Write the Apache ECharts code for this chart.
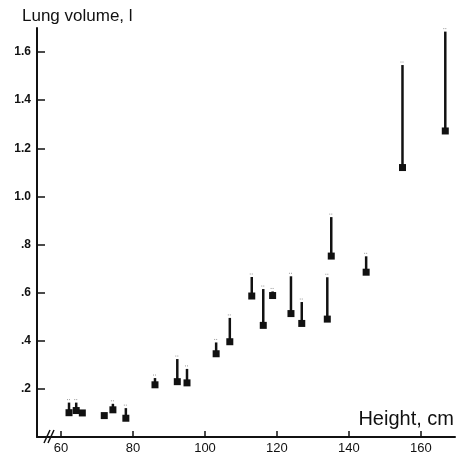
<!DOCTYPE html>
<html>
<head>
    <meta charset="utf-8">
    <title>Lung volume vs height</title>
    <script src="https://cdn.jsdelivr.net/npm/echarts@6/dist/echarts.min.js"></script>
    <style>
        html, body {
            margin: 0;
            width: 100%;
            height: 100%;
            background: #fff;
        }

        #main {
            width: 464px;
            height: 455px;
        }
    </style>
</head>
<body>
<div id="main"></div>
<script type="text/javascript">
    var myChart = echarts.init(document.getElementById('main'));

    // height (cm), lower value (square), upper value (top of bar) -- null = no bar
    const heights = [62.2, 64.2, 65.9, 72.0, 74.4, 78.0, 86.1, 92.3, 95.0, 103.1, 106.9,
        113.0, 116.2, 118.8, 123.9, 126.9, 134.0, 135.1, 144.8, 154.9, 166.8];
    const lower = [0.101, 0.110, 0.100, 0.089, 0.113, 0.078, 0.217, 0.230, 0.225, 0.346, 0.396,
        0.586, 0.464, 0.588, 0.513, 0.472, 0.490, 0.752, 0.685, 1.120, 1.272];
    const upper = [0.143, 0.143, null, null, 0.138, 0.120, 0.245, 0.324, 0.283, 0.393, 0.495,
        0.665, 0.615, 0.605, 0.668, 0.561, 0.664, 0.914, 0.751, 1.546, 1.685];

    const xTicks = [60, 80, 100, 120, 140, 160];
    const yTicks = [0.2, 0.4, 0.6, 0.8, 1.0, 1.2, 1.4, 1.6];

    const ink = '#111';
    const font = '"Liberation Sans", Arial, sans-serif';

    const rangeData = [];
    heights.forEach((h, i) => {
        if (upper[i] != null) rangeData.push([h, lower[i], upper[i]]);
    });
    const pointData = heights.map((h, i) => [h, lower[i]]);

    function yLabel(v) {
        if (v >= 1) return v.toFixed(1);
        return v.toFixed(1).slice(1);
    }

    var option = {
        animation: false,
        backgroundColor: '#fff',
        grid: {
            left: 37,
            right: 9,
            top: 28,
            bottom: 18,
            outerBoundsMode: 'none'
        },
        xAxis: {
            type: 'value',
            min: 53.3,
            max: 169.5,
            axisLine: {onZero: false, lineStyle: {color: ink, width: 2}},
            axisTick: {
                inside: true, length: 6, customValues: xTicks,
                lineStyle: {color: ink, width: 1.5}
            },
            axisLabel: {
                customValues: xTicks, margin: 5,
                color: ink, fontFamily: font, fontSize: 13
            },
            splitLine: {show: false}
        },
        yAxis: {
            type: 'value',
            min: 0,
            max: 1.7,
            axisLine: {lineStyle: {color: ink, width: 2}},
            axisTick: {
                inside: true, length: 8, customValues: yTicks,
                lineStyle: {color: ink, width: 1.5}
            },
            axisLabel: {
                customValues: yTicks, margin: 6,
                color: ink, fontFamily: font, fontSize: 12, fontWeight: 'bold',
                formatter: yLabel
            },
            splitLine: {show: false}
        },
        graphic: [
            {
                type: 'text', left: 22, top: 8,
                style: {text: 'Lung volume, l', font: '17px ' + font, fill: ink}
            },
            {
                type: 'text', right: 10, top: 409,
                style: {text: 'Height, cm', font: '20px ' + font, fill: ink}
            },
            {
                type: 'line', shape: {x1: 44, y1: 443, x2: 50, y2: 430},
                style: {stroke: ink, lineWidth: 1.5}
            },
            {
                type: 'line', shape: {x1: 48, y1: 443, x2: 54, y2: 430},
                style: {stroke: ink, lineWidth: 1.5}
            }
        ],
        series: [
            {
                type: 'custom',
                data: rangeData,
                renderItem: function (params, api) {
                    const p0 = api.coord([api.value(0), api.value(1)]);
                    const p1 = api.coord([api.value(0), api.value(2)]);
                    return {
                        type: 'group',
                        children: [
                            {
                                type: 'line',
                                shape: {x1: p0[0], y1: p0[1], x2: p1[0], y2: p1[1]},
                                style: {stroke: ink, lineWidth: 2.5}
                            },
                            {
                                type: 'line',
                                shape: {x1: p1[0] - 2, y1: p1[1] - 3, x2: p1[0] + 2, y2: p1[1] - 3},
                                style: {stroke: '#999', lineWidth: 1, lineDash: [1, 1]}
                            }
                        ]
                    };
                },
                z: 2
            },
            {
                type: 'scatter',
                data: pointData,
                symbol: 'rect',
                symbolSize: 7,
                itemStyle: {color: ink, opacity: 1},
                z: 3
            }
        ]
    };

    myChart.setOption(option);
</script>
</body>
</html>
